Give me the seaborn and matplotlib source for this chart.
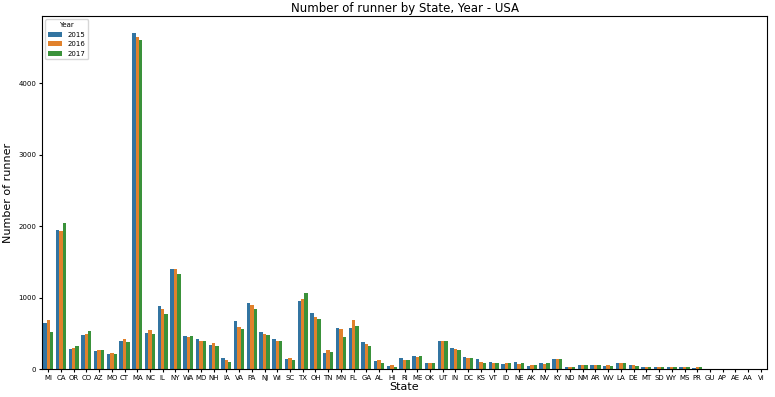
import pandas as pd
import seaborn as sns
import matplotlib.pyplot as plt

states = ['MI', 'CA', 'OR', 'CO', 'AZ', 'MO', 'CT', 'MA', 'NC', 'IL', 'NY', 'WA', 'MD', 'NH', 'IA',
          'VA', 'PA', 'NJ', 'WI', 'SC', 'TX', 'OH', 'TN', 'MN', 'FL', 'GA', 'AL', 'HI', 'RI', 'ME',
          'OK', 'UT', 'IN', 'DC', 'KS', 'VT', 'ID', 'NE', 'AK', 'NV', 'KY', 'ND', 'NM', 'AR', 'WV',
          'LA', 'DE', 'MT', 'SD', 'WY', 'MS', 'PR', 'GU', 'AP', 'AE', 'AA', 'VI']
years = ['2015', '2016', '2017']

runners_2015 = [648, 1953, 284, 480, 252, 219, 396, 4703, 508, 881, 1408, 462, 429, 345, 163,
                671, 923, 527, 420, 145, 955, 792, 228, 577, 582, 382, 112, 51, 154, 182,
                93, 400, 303, 172, 140, 98, 75, 102, 47, 93, 140, 37, 65, 56, 47,
                93, 65, 37, 37, 28, 37, 19, 1, 1, 9, 9, 0]
runners_2016 = [685, 1935, 303, 490, 266, 224, 429, 4647, 555, 848, 1399, 452, 396, 364, 135,
                587, 900, 499, 392, 154, 978, 736, 265, 559, 689, 349, 130, 65, 135, 172,
                93, 400, 289, 163, 98, 93, 93, 75, 56, 75, 149, 28, 65, 56, 56,
                84, 56, 37, 37, 28, 28, 28, 9, 0, 9, 3, 0]
runners_2017 = [517, 2051, 322, 536, 275, 210, 378, 4597, 499, 774, 1329, 462, 401, 326, 107,
                559, 848, 480, 392, 135, 1062, 699, 238, 447, 610, 321, 84, 37, 135, 191,
                84, 400, 270, 154, 93, 84, 93, 93, 56, 93, 140, 28, 65, 56, 47,
                93, 42, 37, 37, 28, 28, 28, 3, 0, 9, 2, 0]

df = pd.DataFrame({'State': states * 3,
                   'Year': [y for y in years for _ in states],
                   'Runners': runners_2015 + runners_2016 + runners_2017})

fig = plt.figure(figsize=(7.75, 3.97), dpi=100)
ax = fig.add_axes([0.054, 0.07, 0.936, 0.89])
sns.barplot(data=df, x='State', y='Runners', hue='Year', order=states, ax=ax)
ax.set_title('Number of runner by State, Year - USA', fontsize=8.5, pad=3)
ax.set_xlabel('State', fontsize=8, labelpad=1)
ax.set_ylabel('Number of runner', fontsize=8)
ax.tick_params(labelsize=5, length=2, pad=2)
ax.set_yticks([0, 1000, 2000, 3000, 4000])
ax.set_ylim(0, 4940)
ax.legend(title='Year', loc='upper left', fontsize=5, title_fontsize=5)
fig.savefig('out.png', dpi=100)
